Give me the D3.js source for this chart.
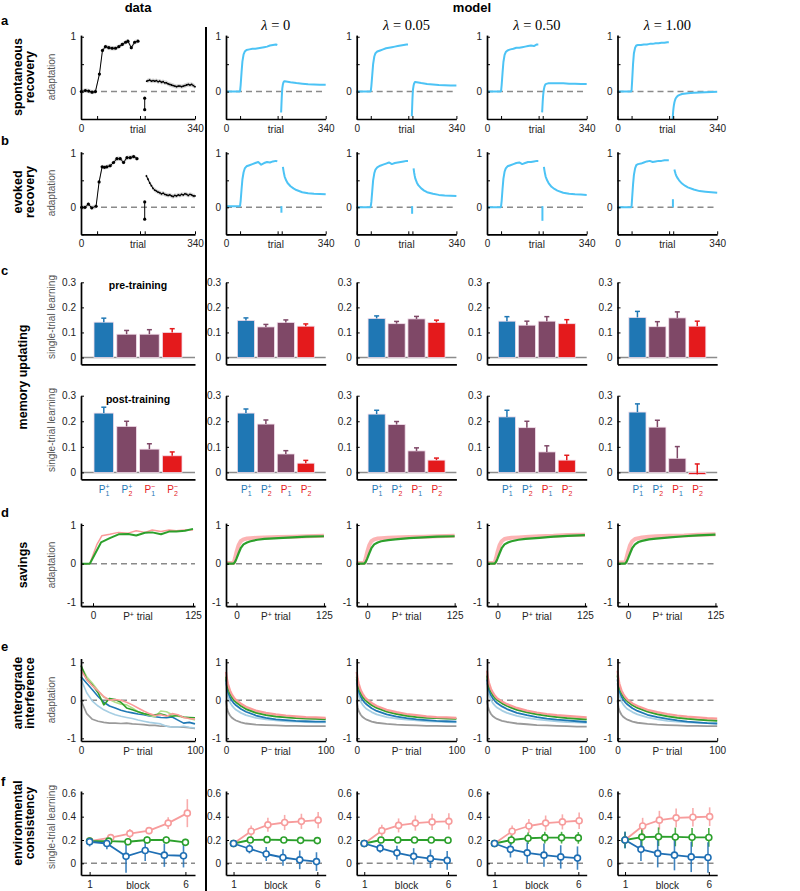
<!DOCTYPE html>
<html><head><meta charset="utf-8">
<script src="https://cdn.jsdelivr.net/npm/d3@7"></script>
<style>body{margin:0;background:#fff}</style>
</head><body><script>
// ---------------- DATA ----------------
const lambdas = ["0", "0.05", "0.50", "1.00"];
const rowLetters = ["a","b","c","d","e","f"];
const rowNames = [["spontaneous","recovery"],["evoked","recovery"],["memory updating"],["savings"],["anterograde","interference"],["environmental","consistency"]];

// row a (spontaneous recovery)
const aDataT = [1,13,23,33,43,55,64,73,83,93,103,113,123,133,140,150,160,170];
const aDataV = [0,0.02,0.01,-0.01,0,0.32,0.75,0.82,0.8,0.79,0.79,0.82,0.86,0.9,0.92,0.8,0.9,0.92];
const aPminusT = [190,190];
const aPminusV = [-0.12,-0.33];
const aClampT = [196,200,205,210,215,220,225,230,235,240,245,250,255,260,265,270,275,280,285,290,295,300,305,310,315,320,325,330,335,340];
const aClampV = [0.19,0.2,0.21,0.19,0.2,0.19,0.2,0.18,0.19,0.17,0.18,0.16,0.16,0.14,0.13,0.12,0.11,0.1,0.09,0.1,0.1,0.09,0.1,0.11,0.12,0.13,0.12,0.13,0.11,0.09];
const aModelT1 = [0,46,48,50,53,56,60,64,70,80,90,100,110,120,130,140,150,160,170,175];
const aModelV1 = [
  [0,0,0.01,0.12,0.35,0.55,0.68,0.73,0.76,0.77,0.78,0.78,0.79,0.8,0.81,0.82,0.84,0.85,0.86,0.85],
  [0,0,0.01,0.1,0.3,0.5,0.64,0.7,0.73,0.75,0.77,0.79,0.8,0.81,0.82,0.83,0.84,0.85,0.86,0.86],
  [0,0,0.01,0.12,0.34,0.54,0.67,0.72,0.75,0.77,0.78,0.8,0.8,0.81,0.82,0.83,0.84,0.83,0.86,0.86],
  [0,0,0.02,0.2,0.5,0.7,0.8,0.84,0.85,0.85,0.86,0.86,0.87,0.87,0.88,0.88,0.89,0.89,0.9,0.9]];
const aModelT2 = [188,189,190,191,192,194,196,198,200,205,210,220,240,260,280,300,320,340];
const aModelV2 = [
  [-0.38,-0.25,-0.12,-0.02,0.06,0.13,0.17,0.185,0.19,0.185,0.18,0.17,0.155,0.145,0.135,0.13,0.125,0.125],
  [-0.45,-0.3,-0.15,-0.04,0.04,0.11,0.15,0.17,0.175,0.17,0.165,0.155,0.14,0.13,0.12,0.115,0.11,0.11],
  [-0.38,-0.28,-0.18,-0.1,-0.04,0.04,0.09,0.12,0.135,0.145,0.15,0.15,0.15,0.15,0.145,0.145,0.14,0.14],
  [-0.5,-0.42,-0.35,-0.3,-0.26,-0.2,-0.16,-0.13,-0.11,-0.08,-0.065,-0.045,-0.03,-0.02,-0.015,-0.01,-0.008,-0.005]];
const abTicks = [0,48,176,190,340];

// row b (evoked recovery)
const bDataT = [2,12,22,32,45,54,63,70,77,87,97,107,117,127,137,147,157,167];
const bDataV = [0,0,0.06,-0.01,0.02,0.47,0.75,0.74,0.75,0.77,0.83,0.9,0.9,0.83,0.92,0.92,0.94,0.9];
const bPminusT = [190,190];
const bPminusV = [0.1,-0.22];
const bClampT = [195,200,205,210,215,220,225,230,235,240,245,250,255,260,265,270,275,280,285,290,295,300,305,310,315,320,325,330,335,340];
const bClampV = [0.58,0.52,0.45,0.4,0.35,0.32,0.3,0.28,0.27,0.25,0.26,0.24,0.23,0.22,0.23,0.21,0.2,0.22,0.21,0.23,0.22,0.24,0.23,0.25,0.24,0.22,0.24,0.23,0.21,0.21];
const bModelT1 = [0,46,48,50,53,56,60,64,70,80,90,100,110,120,130,140,150,160,170,175];
const bModelV1 = [
  [0.02,0.02,0.03,0.12,0.33,0.52,0.65,0.72,0.76,0.78,0.8,0.82,0.84,0.79,0.82,0.84,0.83,0.85,0.86,0.85],
  [0,0,0.02,0.1,0.3,0.5,0.63,0.7,0.74,0.77,0.79,0.81,0.83,0.8,0.82,0.83,0.84,0.85,0.86,0.86],
  [0,0,0.02,0.12,0.34,0.53,0.66,0.72,0.76,0.78,0.8,0.82,0.83,0.8,0.82,0.84,0.84,0.85,0.86,0.86],
  [0,0,0.02,0.18,0.42,0.6,0.72,0.78,0.8,0.81,0.83,0.85,0.86,0.84,0.85,0.86,0.86,0.87,0.87,0.87]];
const bBlipT = [189,189];
const bBlipV = [[0.02,-0.1],[0.02,-0.12],[0.02,-0.25],[0.15,0.0]];
const bModelT2 = [194,196,198,200,205,210,220,230,240,260,280,300,320,340];
const bModelV2 = [
  [0.75,0.68,0.62,0.57,0.5,0.45,0.39,0.35,0.32,0.28,0.26,0.25,0.245,0.24],
  [0.72,0.64,0.58,0.53,0.46,0.41,0.35,0.31,0.28,0.25,0.23,0.22,0.215,0.21],
  [0.75,0.68,0.62,0.57,0.5,0.45,0.38,0.34,0.31,0.27,0.25,0.24,0.235,0.23],
  [0.7,0.66,0.62,0.59,0.54,0.5,0.44,0.4,0.37,0.33,0.3,0.29,0.28,0.27]];

// row c (memory updating) : columns = data, λ=0, 0.05, 0.50, 1.00 ; bars = P1+, P2+, P1-, P2-
const cPreMean  = [[0.141,0.093,0.093,0.1],[0.148,0.122,0.14,0.125],[0.156,0.135,0.154,0.14],[0.145,0.129,0.145,0.135],[0.16,0.123,0.158,0.125]];
const cPreErr   = [[0.016,0.015,0.018,0.015],[0.01,0.01,0.01,0.009],[0.01,0.009,0.01,0.009],[0.018,0.016,0.018,0.016],[0.024,0.02,0.024,0.02]];
const cPostMean = [[0.232,0.18,0.091,0.065],[0.232,0.189,0.072,0.036],[0.228,0.187,0.084,0.048],[0.217,0.175,0.08,0.048],[0.236,0.177,0.055,-0.008]];
const cPostErr  = [[0.023,0.02,0.021,0.015],[0.016,0.016,0.013,0.011],[0.015,0.012,0.012,0.008],[0.026,0.025,0.024,0.019],[0.032,0.027,0.046,0.041]];

// row d (savings)
const dPinkT = [-15,-4,5,11,21,32,44,54,65,74,85,95,104,115,125];
const dPinkV = [0,0,0.5,0.72,0.76,0.81,0.79,0.85,0.81,0.87,0.83,0.87,0.85,0.87,0.87];
const dGreenT = [-15,-4,10,21,32,44,54,65,74,85,95,104,115,125];
const dGreenV = [0,0,0.55,0.66,0.76,0.77,0.73,0.8,0.81,0.76,0.83,0.83,0.85,0.9];
const dModelT = [-15,-4,-2,0,3,6,10,15,20,30,40,60,80,100,125];
const dModelPink = [
  [0.02,0.02,0.15,0.3,0.48,0.58,0.63,0.65,0.66,0.67,0.68,0.69,0.7,0.71,0.72],
  [0.02,0.02,0.15,0.3,0.48,0.58,0.63,0.65,0.66,0.67,0.68,0.69,0.7,0.71,0.72],
  [0.02,0.02,0.15,0.3,0.48,0.58,0.64,0.66,0.67,0.68,0.69,0.71,0.72,0.74,0.75],
  [0.03,0.03,0.16,0.3,0.48,0.58,0.64,0.66,0.68,0.7,0.71,0.72,0.73,0.75,0.76]];
const dModelGreen = [
  [0,0,0.05,0.13,0.27,0.4,0.5,0.55,0.58,0.62,0.64,0.66,0.68,0.7,0.71],
  [0,0,0.05,0.13,0.27,0.4,0.5,0.55,0.58,0.61,0.63,0.66,0.68,0.7,0.71],
  [0,0,0.05,0.13,0.27,0.4,0.5,0.55,0.58,0.62,0.64,0.67,0.7,0.72,0.74],
  [0,0,0.05,0.13,0.27,0.4,0.5,0.56,0.59,0.63,0.65,0.68,0.71,0.73,0.75]];

// row e (anterograde interference) ; series order: gray, light blue, blue, light green, green, pink
const eColors = ["#9a9a9a","#a6cee3","#1f78b4","#b2df8a","#33a02c","#fb9a99"];
const eDataT = [0,5,10,15,20,25,30,35,40,45,50,55,60,65,70,75,80,85,90,95,100];
const eDataV = [
  [0,-0.35,-0.5,-0.55,-0.58,-0.6,-0.6,-0.61,-0.6,-0.62,-0.63,-0.64,-0.66,-0.66,-0.68,-0.68,-0.7,-0.7,-0.71,-0.72,-0.74],
  [0.55,0.2,-0.02,-0.15,-0.25,-0.32,-0.38,-0.42,-0.45,-0.48,-0.52,-0.55,-0.58,-0.6,-0.62,-0.68,-0.7,-0.7,-0.68,-0.71,-0.73],
  [0.62,0.45,0.28,0.1,-0.05,-0.15,-0.2,-0.26,-0.3,-0.33,-0.36,-0.38,-0.41,-0.43,-0.45,-0.46,-0.44,-0.52,-0.6,-0.58,-0.62],
  [0.9,0.62,0.45,0.25,0.08,0.02,-0.05,-0.1,-0.12,-0.2,-0.3,-0.35,-0.4,-0.43,-0.28,-0.3,-0.38,-0.42,-0.45,-0.48,-0.52],
  [0.92,0.55,0.4,0.2,-0.12,0.05,0.02,-0.05,-0.2,-0.25,-0.3,-0.35,-0.38,-0.38,-0.36,-0.4,-0.42,-0.4,-0.44,-0.45,-0.46],
  [0.8,0.55,0.38,0.25,0.1,0,0.02,0,-0.05,-0.12,-0.2,-0.28,-0.35,-0.4,-0.38,-0.42,-0.35,-0.38,-0.45,-0.48,-0.5]];
const eModelT = [0,1,2,4,6,8,10,15,20,30,40,50,60,70,80,90,100];
const eModelV = [
 [ [0,-0.2,-0.3,-0.4,-0.46,-0.5,-0.53,-0.58,-0.61,-0.64,-0.65,-0.66,-0.67,-0.67,-0.68,-0.68,-0.68],
   [0.45,0.22,0.1,-0.05,-0.14,-0.2,-0.25,-0.33,-0.39,-0.46,-0.5,-0.53,-0.55,-0.56,-0.57,-0.58,-0.58],
   [0.55,0.35,0.22,0.08,-0.01,-0.08,-0.13,-0.23,-0.3,-0.4,-0.46,-0.5,-0.52,-0.54,-0.55,-0.56,-0.56],
   [0.65,0.47,0.35,0.19,0.09,0.02,-0.03,-0.13,-0.21,-0.31,-0.37,-0.41,-0.44,-0.46,-0.47,-0.48,-0.49],
   [0.62,0.45,0.33,0.17,0.08,0,-0.05,-0.15,-0.23,-0.33,-0.39,-0.43,-0.45,-0.47,-0.48,-0.49,-0.5],
   [0.75,0.56,0.43,0.26,0.15,0.07,0.01,-0.09,-0.17,-0.27,-0.33,-0.37,-0.4,-0.42,-0.44,-0.45,-0.46] ],
 [ [0,-0.18,-0.28,-0.38,-0.44,-0.48,-0.51,-0.56,-0.59,-0.62,-0.64,-0.65,-0.66,-0.67,-0.67,-0.68,-0.68],
   [0.45,0.24,0.12,-0.03,-0.12,-0.18,-0.23,-0.31,-0.37,-0.44,-0.48,-0.51,-0.53,-0.55,-0.56,-0.57,-0.58],
   [0.55,0.36,0.24,0.1,0.01,-0.06,-0.11,-0.21,-0.28,-0.37,-0.43,-0.47,-0.5,-0.52,-0.54,-0.55,-0.56],
   [0.65,0.48,0.36,0.21,0.11,0.04,-0.01,-0.11,-0.18,-0.28,-0.34,-0.39,-0.42,-0.44,-0.46,-0.47,-0.48],
   [0.62,0.46,0.34,0.19,0.09,0.02,-0.03,-0.13,-0.2,-0.3,-0.36,-0.41,-0.44,-0.46,-0.47,-0.48,-0.49],
   [0.75,0.56,0.44,0.27,0.17,0.09,0.03,-0.07,-0.15,-0.25,-0.31,-0.36,-0.39,-0.42,-0.44,-0.45,-0.46] ],
 [ [0,-0.16,-0.26,-0.36,-0.42,-0.46,-0.49,-0.54,-0.57,-0.61,-0.63,-0.65,-0.66,-0.67,-0.68,-0.69,-0.69],
   [0.45,0.26,0.15,0.01,-0.08,-0.14,-0.19,-0.27,-0.33,-0.41,-0.46,-0.5,-0.53,-0.55,-0.57,-0.58,-0.59],
   [0.55,0.38,0.27,0.13,0.05,-0.02,-0.07,-0.16,-0.23,-0.33,-0.39,-0.44,-0.48,-0.51,-0.53,-0.55,-0.57],
   [0.68,0.5,0.39,0.25,0.15,0.08,0.03,-0.06,-0.13,-0.23,-0.3,-0.35,-0.39,-0.42,-0.45,-0.47,-0.49],
   [0.65,0.48,0.37,0.23,0.13,0.06,0.01,-0.08,-0.15,-0.25,-0.32,-0.37,-0.41,-0.44,-0.47,-0.49,-0.51],
   [0.78,0.58,0.46,0.3,0.2,0.12,0.06,-0.03,-0.1,-0.2,-0.27,-0.32,-0.36,-0.39,-0.41,-0.43,-0.45] ],
 [ [0,-0.18,-0.28,-0.38,-0.44,-0.48,-0.51,-0.56,-0.59,-0.62,-0.64,-0.65,-0.66,-0.67,-0.67,-0.68,-0.68],
   [0.45,0.24,0.12,-0.03,-0.12,-0.18,-0.23,-0.31,-0.37,-0.45,-0.5,-0.54,-0.56,-0.58,-0.59,-0.6,-0.61],
   [0.55,0.36,0.24,0.1,0.01,-0.06,-0.11,-0.21,-0.28,-0.38,-0.44,-0.49,-0.53,-0.56,-0.58,-0.6,-0.61],
   [0.68,0.48,0.36,0.21,0.11,0.04,-0.01,-0.11,-0.18,-0.28,-0.35,-0.4,-0.44,-0.47,-0.5,-0.51,-0.53],
   [0.65,0.46,0.34,0.19,0.09,0.02,-0.03,-0.13,-0.2,-0.3,-0.37,-0.42,-0.46,-0.49,-0.51,-0.53,-0.54],
   [0.78,0.56,0.43,0.26,0.16,0.08,0.02,-0.08,-0.15,-0.25,-0.31,-0.36,-0.4,-0.43,-0.45,-0.47,-0.48] ] ];

// row f (environmental consistency) ; series: pink, green, blue
const fBlocks = [1,2,3,4,5,6];
const fColors = ["#f79c9c","#2ca02c","#1f6fb4"];
const fMean = [
 [[0.19,0.22,0.255,0.28,0.345,0.43],[0.19,0.19,0.185,0.2,0.2,0.18],[0.185,0.17,0.06,0.11,0.07,0.065]],
 [[0.17,0.275,0.33,0.35,0.36,0.37],[0.17,0.2,0.203,0.2,0.197,0.195],[0.17,0.125,0.08,0.05,0.03,0.015]],
 [[0.17,0.28,0.325,0.345,0.355,0.36],[0.17,0.2,0.2,0.2,0.2,0.198],[0.17,0.13,0.09,0.06,0.04,0.025]],
 [[0.17,0.275,0.32,0.345,0.355,0.365],[0.17,0.2,0.215,0.22,0.22,0.218],[0.17,0.12,0.09,0.07,0.055,0.045]],
 [[0.2,0.32,0.37,0.39,0.395,0.4],[0.2,0.225,0.228,0.226,0.223,0.222],[0.2,0.12,0.085,0.07,0.055,0.05]]];
const fErr = [
 [[0.02,0.02,0.04,0.03,0.05,0.12],[0.03,0.02,0.03,0.03,0.03,0.03],[0.04,0.05,0.14,0.09,0.1,0.1]],
 [[0.02,0.05,0.06,0.065,0.065,0.07],[0.02,0.02,0.025,0.02,0.02,0.02],[0.02,0.04,0.06,0.07,0.08,0.08]],
 [[0.02,0.05,0.06,0.065,0.07,0.07],[0.02,0.02,0.02,0.02,0.02,0.02],[0.02,0.04,0.06,0.07,0.08,0.08]],
 [[0.02,0.05,0.06,0.065,0.065,0.07],[0.03,0.04,0.05,0.05,0.05,0.05],[0.03,0.07,0.09,0.1,0.1,0.1]],
 [[0.06,0.07,0.08,0.08,0.08,0.08],[0.07,0.08,0.08,0.08,0.08,0.08],[0.07,0.1,0.12,0.13,0.13,0.13]]];

// ---------------- DRAW ----------------
const FONT = '"Liberation Sans", Arial, Helvetica, sans-serif';
const svg = d3.select("body").append("svg").attr("width",800).attr("height",891)
  .style("font-family",FONT);
const colLeft = [81,226,356.7,487,617.5];
const colW = [114,99.7,99.7,99.7,99.7];
const CYAN = "#4cc3f5";
const BAR_COLORS = ["#1f77b4","#7f4867","#7f4867","#e41a1c"];

function makePanel(col, xDomain, yDomain, yRange){
  const x = d3.scaleLinear().domain(xDomain).range([colLeft[col], colLeft[col]+colW[col]]);
  const y = d3.scaleLinear().domain(yDomain).range(yRange);
  const g = svg.append("g");
  return {x, y, g, bottom:yRange[0]};
}
function axes(p, yTicks, yFmt, xTicks, xFmt){
  const ga = p.g.append("g").attr("transform",`translate(${p.x.range()[0]},0)`)
    .call(d3.axisLeft(p.y).tickValues(yTicks).tickFormat(yFmt).tickSizeInner(-3).tickSizeOuter(0).tickPadding(5));
  const gb = p.g.append("g").attr("transform",`translate(0,${p.bottom})`)
    .call(d3.axisBottom(p.x).tickValues(xTicks).tickFormat(xFmt).tickSizeInner(-3).tickSizeOuter(0).tickPadding(6));
  [ga,gb].forEach(a=>{
    a.select(".domain").attr("stroke","#000").attr("stroke-width",1.7);
    a.selectAll(".tick line").attr("stroke","#000").attr("stroke-width",1);
    a.selectAll("text").attr("font-family",FONT).attr("font-size",10).attr("fill","#222");
  });
}
function zeroDash(p){
  p.g.append("line").attr("x1",p.x.range()[0]).attr("x2",p.x.range()[1])
    .attr("y1",p.y(0)).attr("y2",p.y(0)).attr("stroke","#8a8a8a").attr("stroke-width",1.5)
    .attr("stroke-dasharray","6,4");
}
function xCenterLabel(p){
  return p.g.append("text").attr("x",(p.x.range()[0]+p.x.range()[1])/2).attr("y",p.bottom+14)
    .attr("text-anchor","middle").attr("font-size",10).attr("fill","#222");
}
function path(p, T, V, color, w, opacity){
  const line = d3.line().x(d=>p.x(d[0])).y(d=>p.y(d[1]));
  return p.g.append("path").datum(T.map((t,i)=>[t,V[i]])).attr("d",line)
    .attr("fill","none").attr("stroke",color).attr("stroke-width",w).attr("stroke-opacity",opacity||1)
    .attr("stroke-linejoin","round");
}
function band(p, T, V, hw){
  const area = d3.area().x(d=>p.x(d[0])).y0(d=>p.y(d[1]-hw)).y1(d=>p.y(d[1]+hw));
  p.g.append("path").datum(T.map((t,i)=>[t,V[i]])).attr("d",area).attr("fill","#d3d3d3");
}
function dots(p, T, V, r){
  p.g.selectAll(null).data(T.map((t,i)=>[t,V[i]])).join("circle")
    .attr("cx",d=>p.x(d[0])).attr("cy",d=>p.y(d[1])).attr("r",r).attr("fill","#000");
}
function fmtOnly(list){ return d=> list.includes(d) ? String(d) : ""; }

// --- headers, divider
svg.append("text").attr("x",138).attr("y",12).attr("text-anchor","middle").attr("font-weight","bold").attr("font-size",13).text("data");
svg.append("text").attr("x",472).attr("y",12).attr("text-anchor","middle").attr("font-weight","bold").attr("font-size",13).text("model");
lambdas.forEach((l,i)=>{
  const t = svg.append("text").attr("x",colLeft[i+1]+colW[i+1]/2).attr("y",30).attr("text-anchor","middle")
    .attr("font-family",'"Liberation Serif","DejaVu Serif",serif').attr("font-size",14.5);
  t.append("tspan").attr("font-style","italic").text("λ");
  t.append("tspan").text(" = "+l);
});
svg.append("line").attr("x1",206).attr("x2",206).attr("y1",27).attr("y2",891).attr("stroke","#000").attr("stroke-width",2);

// --- row letters and names
const letterY = [20,140,270,512,646,781];
rowLetters.forEach((l,i)=> svg.append("text").attr("x",1).attr("y",letterY[i]+5).attr("font-weight","bold").attr("font-size",13).text(l));
const nameCY = [77,192,377,565,693,823];
rowNames.forEach((lines,i)=>{
  const xs = lines.length===2 ? [17,29] : [22];
  lines.forEach((s,j)=>{
    svg.append("text").attr("transform",`translate(${xs[j]},${nameCY[i]}) rotate(-90)`)
      .attr("text-anchor","middle").attr("dy","0.36em").attr("font-weight","bold").attr("font-size",12.5).text(s);
  });
});
const yTitles = [["adaptation",77],["adaptation",193],["single-trial learning",317],["single-trial learning",430],["adaptation",565],["adaptation",700],["single-trial learning",827]];
yTitles.forEach(([s,cy])=> svg.append("text").attr("transform",`translate(51,${cy}) rotate(-90)`)
  .attr("text-anchor","middle").attr("dy","0.35em").attr("font-size",10).attr("fill","#555").text(s));

// --- rows a and b
function rowAB(col, yRange, dataT, dataV, pmT, pmV, clT, clV, mT1, mV1, blipV, mT2, mV2){
  const p = makePanel(col,[0,340],[-0.5,1.03],yRange);
  zeroDash(p);
  if(col===0){
    band(p,dataT,dataV,0.04); band(p,clT,clV,0.04);
    path(p,dataT,dataV,"#000",1); dots(p,dataT,dataV,1.6);
    path(p,clT,clV,"#000",1); dots(p,clT,clV,0.9);
    path(p,pmT,pmV,"#000",1); dots(p,pmT,pmV,1.6);
  } else {
    path(p,mT1,mV1,CYAN,2);
    if(blipV) path(p,bBlipT,blipV,CYAN,2);
    path(p,mT2,mV2,CYAN,2);
  }
  axes(p,[-0.5,0,0.5,1],fmtOnly([0,1]),abTicks,fmtOnly([0,340]));
  xCenterLabel(p).text("trial");
}
for(let c=0;c<5;c++){
  rowAB(c,[119,35.1],aDataT,aDataV,aPminusT,aPminusV,aClampT,aClampV,aModelT1,c?aModelV1[c-1]:null,null,aModelT2,c?aModelV2[c-1]:null);
  rowAB(c,[234.3,151.7],bDataT,bDataV,bPminusT,bPminusV,bClampT,bClampV,bModelT1,c?bModelV1[c-1]:null,c?bBlipV[c-1]:null,bModelT2,c?bModelV2[c-1]:null);
}

// --- row c
const cIdx = [1,2,3,4];
function rowC(col, yRange, means, errs, title, showLabels){
  const p = makePanel(col,[0,5],[-0.027,0.3],yRange);
  const bw = 0.86*(p.x(1)-p.x(0));
  p.g.append("line").attr("x1",p.x(0)).attr("x2",p.x(5)).attr("y1",p.y(0)).attr("y2",p.y(0)).attr("stroke","#8c8c8c").attr("stroke-width",1.5);
  cIdx.forEach((k,i)=>{
    const m = means[i], e = errs[i], c = BAR_COLORS[i];
    p.g.append("rect").attr("x",p.x(k)-bw/2).attr("width",bw)
      .attr("y",Math.min(p.y(m),p.y(0))).attr("height",Math.abs(p.y(0)-p.y(m)))
      .attr("fill",c).attr("stroke","#f2dcea").attr("stroke-width",0.8);
    p.g.append("line").attr("x1",p.x(k)).attr("x2",p.x(k)).attr("y1",p.y(m)).attr("y2",p.y(m+e)).attr("stroke",c).attr("stroke-width",1.5);
    p.g.append("line").attr("x1",p.x(k)-2.5).attr("x2",p.x(k)+2.5).attr("y1",p.y(m+e)).attr("y2",p.y(m+e)).attr("stroke",c).attr("stroke-width",1.5);
  });
  axes(p,[0,0.1,0.2,0.3],d=>d===0?"0":d3.format(".1f")(d),[],null);
  if(title) p.g.append("text").attr("x",p.x(2.5)).attr("y",yRange[1]+7).attr("text-anchor","middle").attr("font-weight","bold").attr("font-size",10.5).text(title);
  if(showLabels){
    const spec = [["#1f77b4","1","#1f77b4","+"],["#1f77b4","2","#e41a1c","+"],["#e41a1c","1","#1f77b4","\u2212"],["#e41a1c","2","#e41a1c","\u2212"]];
    spec.forEach((s,i)=>{
      const cx = p.x(cIdx[i]) - 5, by = p.bottom + 14;
      p.g.append("text").attr("x",cx).attr("y",by).attr("font-size",10).attr("fill",s[0]).text("P");
      p.g.append("text").attr("x",cx+6.8).attr("y",by+3).attr("font-size",7).attr("fill",s[2]).text(s[1]);
      p.g.append("text").attr("x",cx+6.6).attr("y",by-4).attr("font-size",7).attr("fill",s[0]).text(s[3]);
    });
  }
}
for(let c=0;c<5;c++){
  rowC(c,[364.3,282.3],cPreMean[c],cPreErr[c],c===0?"pre-training":null,false);
  rowC(c,[479.3,395.7],cPostMean[c],cPostErr[c],c===0?"post-training":null,true);
}

// --- row d
for(let c=0;c<5;c++){
  const p = makePanel(c,[-15,127.5],[-1.1,1.05],[606.2,523.1]);
  zeroDash(p);
  if(c===0){
    path(p,dPinkT,dPinkV,"#fb9a99",1.5);
    path(p,dGreenT,dGreenV,"#2ca02c",2);
  } else {
    path(p,dModelT,dModelPink[c-1],"#fb9a99",4,0.75);
    path(p,dModelT,dModelGreen[c-1],"#2ca02c",2.2);
  }
  axes(p,[-1,0,1],d=>String(d),[0,125],d=>String(d));
  const t = xCenterLabel(p); t.append("tspan").text("P"); t.append("tspan").attr("baseline-shift","super").attr("font-size",7).text("+"); t.append("tspan").text(" trial");
}

// --- row e
for(let c=0;c<5;c++){
  const p = makePanel(c,[0,100],[-1.07,1.1],[741,658.5]);
  zeroDash(p);
  eColors.forEach((col,s)=>{
    if(c===0) path(p,eDataT,eDataV[s],col,1.6);
    else path(p,eModelT,eModelV[c-1][s],col,s===5?2.2:1.8);
  });
  axes(p,[-1,0,1],d=>String(d),[0,100],d=>String(d));
  const t = xCenterLabel(p); t.append("tspan").text("P"); t.append("tspan").attr("baseline-shift","super").attr("font-size",7).text("\u2212"); t.append("tspan").text(" trial");
}

// --- row f
for(let c=0;c<5;c++){
  const p = makePanel(c,[0.55,6.5],[-0.1,0.62],[875,791]);
  zeroDash(p);
  const off = c===0 ? [0.1,0,-0.1] : [0.05,0,-0.05];
  [0,1,2].forEach(s=>{
    const pts = fBlocks.map((b,i)=>({x:b+(i===0?0:off[s]), m:fMean[c][s][i], e:fErr[c][s][i]}));
    p.g.selectAll(null).data(pts).join("line")
      .attr("x1",d=>p.x(d.x)).attr("x2",d=>p.x(d.x)).attr("y1",d=>p.y(d.m-d.e)).attr("y2",d=>p.y(d.m+d.e))
      .attr("stroke",fColors[s]).attr("stroke-width",1.6).attr("stroke-opacity",0.85);
    path(p,pts.map(d=>d.x),pts.map(d=>d.m),fColors[s],1.8);
  });
  [0,1,2].forEach(s=>{
    const pts = fBlocks.map((b,i)=>({x:b+(i===0?0:off[s]), m:fMean[c][s][i]}));
    p.g.selectAll(null).data(pts).join("circle").attr("cx",d=>p.x(d.x)).attr("cy",d=>p.y(d.m)).attr("r",3)
      .attr("fill","#fff").attr("stroke",fColors[s]).attr("stroke-width",1.6);
  });
  axes(p,[0,0.2,0.4,0.6],d=>d===0?"0":d3.format(".1f")(d),[1,6],d=>String(d));
  xCenterLabel(p).text("block");
}
</script></body></html>
